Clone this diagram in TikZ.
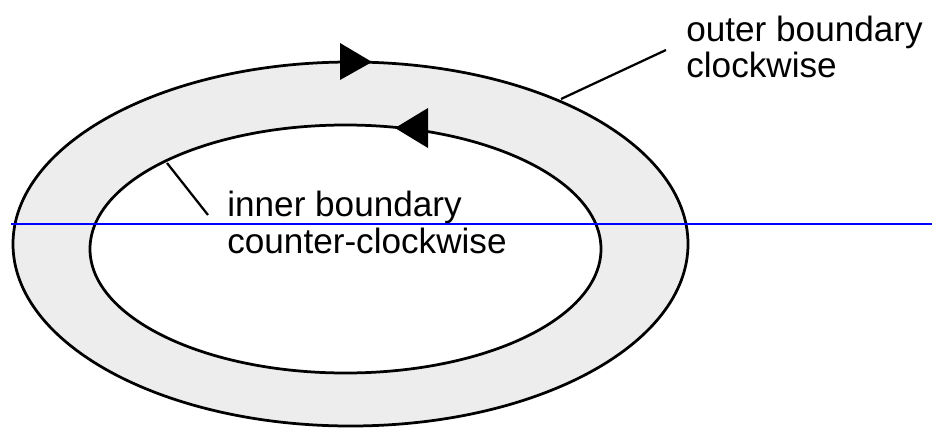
\documentclass[tikz,border=0pt]{standalone}
\usepackage{fontspec}
\setmainfont{Liberation Sans}
\usetikzlibrary{calc}
\tikzset{lbltext/.style={font=\fontsize{20}{20.5}\selectfont, anchor=base west, align=left, inner sep=0pt}}

\begin{document}
\begin{tikzpicture}[x=0.02cm, y=-0.02cm]
			%%%%% START %%%%%
			\useasboundingbox (0, 0) rectangle (932, 429);
			
			\draw[line width=0.55mm, fill=black!7] (350.5, 244) ellipse [x radius=337.5, y radius=182];
			\draw[line width=0.55mm, fill=white] (345.5, 249) ellipse [x radius=255.5, y radius=124];
			
			\fill (340, 43) -- (372, 62) -- (340, 80) -- cycle;
			\fill (428, 108) -- (395, 128) -- (428, 148) -- cycle;
			
			\node[lbltext] (outerlbl) at (686, 78) {outer boundary\\clockwise};
			\node[lbltext] (innerlbl) at (227, 253) {inner boundary\\counter-clockwise};
			
			\coordinate (outerpt) at (561, 99);
			\coordinate (outerend) at (666, 50);
			\draw[line width=0.45mm] (outerpt) -- (outerend);
			
			\coordinate (innerpt) at (167, 163);
			\coordinate (innerend) at (208, 215);
			\draw[line width=0.45mm] (innerpt) -- (innerend);
			
			\coordinate (bluel) at (11, 224);
			\coordinate (bluer) at (932, 224);
			\draw[line width=0.4mm, color=blue] (bluel) -- (bluer);
			
			%%%%% END %%%%%
\end{tikzpicture}
\end{document}
